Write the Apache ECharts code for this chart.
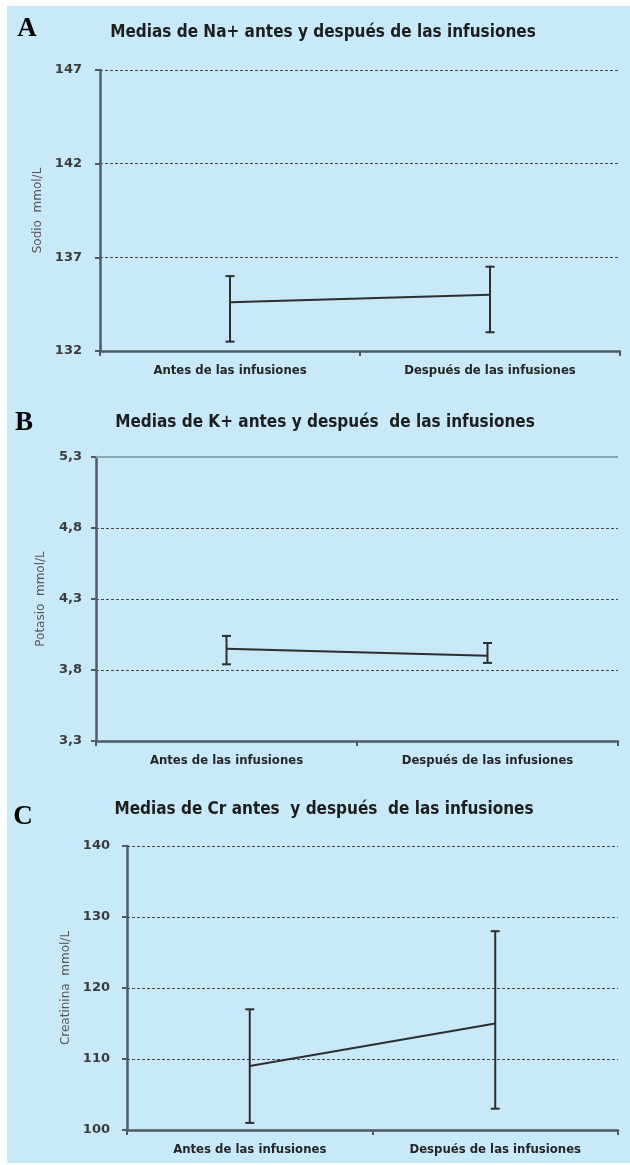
<!DOCTYPE html>
<html>
<head>
<meta charset="utf-8">
<script src="https://cdn.jsdelivr.net/npm/echarts@6/dist/echarts.min.js"></script>
<style>
html,body{margin:0;padding:0;background:#ffffff;}
#chart{position:absolute;left:0;top:0;width:630px;height:1165px;}
</style>
</head>
<body>
<div id="chart"></div>
<script>
// ---- data ----
const categories = ['Antes de las infusiones', 'Después de las infusiones'];

const naTitle = 'Medias de Na+ antes y después de las infusiones';
const naName = 'Sodio  mmol/L';
const naMean = [134.6, 135.0];
const naLow = [132.5, 133.0];
const naHigh = [136.0, 136.5];
const naTicks = [132, 137, 142, 147];

const kTitle = 'Medias de K+ antes y después  de las infusiones';
const kName = 'Potasio  mmol/L';
const kMean = [3.95, 3.90];
const kLow = [3.84, 3.85];
const kHigh = [4.04, 3.99];
const kTicks = [3.3, 3.8, 4.3, 4.8, 5.3];

const crTitle = 'Medias de Cr antes  y después  de las infusiones';
const crName = 'Creatinina  mmol/L';
const crMean = [109, 115];
const crLow = [101, 103];
const crHigh = [117, 128];
const crTicks = [100, 110, 120, 130, 140];

const panelLetters = ['A', 'B', 'C'];

// ---- styling ----
const BG = '#c7e9f8';
const AXIS = '#4e5b66';
const INK = '#2e2e2e';
const GRIDC = '#4a4a4a';
const narrow = "'Liberation Sans Narrow', 'DejaVu Sans Condensed', sans-serif";

const chart = echarts.init(document.getElementById('chart'), null, {renderer: 'canvas'});

const grids = [
  {left: 100, right: 10, top: 70, height: 281},
  {left: 96, right: 12, top: 457, height: 284},
  {left: 127, right: 12, top: 846, height: 284}
];

const panels = [
  {ticks: naTicks, name: naName, mean: naMean, low: naLow, high: naHigh, gap: 52, lm: 18, fmt: v => String(Math.round(v))},
  {ticks: kTicks, name: kName, mean: kMean, low: kLow, high: kHigh, gap: 49, lm: 14, fmt: v => v.toFixed(1).replace('.', ',')},
  {ticks: crTicks, name: crName, mean: crMean, low: crLow, high: crHigh, gap: 54, lm: 17, fmt: v => String(Math.round(v))}
];

const xAxes = panels.map((p, i) => ({
  type: 'category',
  gridIndex: i,
  data: categories,
  boundaryGap: true,
  axisLine: {lineStyle: {color: AXIS, width: 2.5}},
  axisTick: {show: true, length: 5, lineStyle: {color: AXIS, width: 2}},
  axisLabel: {color: '#262626', fontFamily: narrow, fontWeight: 'bold', fontSize: 13, margin: 13}
}));

const yAxes = panels.map((p, i) => {
  const t = p.ticks;
  const n = t.length;
  const splitColors = t.map(() => GRIDC);
  if (i === 1) splitColors[n - 1] = 'rgba(0,0,0,0)';
  return {
    type: 'value',
    gridIndex: i,
    min: t[0],
    max: t[n - 1],
    interval: t[1] - t[0],
    name: p.name,
    nameLocation: 'middle',
    nameGap: p.gap,
    nameRotate: 90,
    nameTextStyle: {color: '#585858', fontFamily: "'DejaVu Sans', sans-serif", fontSize: 12},
    axisLine: {show: true, lineStyle: {color: AXIS, width: 2.5}},
    axisTick: {show: true, length: 5, lineStyle: {color: AXIS, width: 2}},
    axisLabel: {color: '#3c3c3c', fontFamily: "'DejaVu Sans', sans-serif", fontWeight: 'bold', fontSize: 13, margin: p.lm, formatter: p.fmt},
    splitLine: {show: true, lineStyle: {color: splitColors, width: 1, type: [3, 2]}}
  };
});

const series = [];
panels.forEach((p, i) => {
  series.push({
    type: 'line',
    xAxisIndex: i,
    yAxisIndex: i,
    data: p.mean,
    symbol: 'none',
    silent: true,
    lineStyle: {color: INK, width: 2},
    z: 5,
    markLine: i === 1 ? {
      silent: true,
      symbol: 'none',
      label: {show: false},
      lineStyle: {color: '#8aa6b4', width: 2, type: 'solid'},
      data: [{yAxis: p.ticks[p.ticks.length - 1]}]
    } : undefined
  });
  series.push({
    type: 'custom',
    xAxisIndex: i,
    yAxisIndex: i,
    silent: true,
    z: 6,
    data: categories.map((c, j) => [j, p.low[j], p.high[j]]),
    encode: {x: 0, y: [1, 2]},
    renderItem: function (params, api) {
      const x = api.value(0);
      const lo = api.coord([x, api.value(1)]);
      const hi = api.coord([x, api.value(2)]);
      const w = 4.5;
      const st = {stroke: INK, lineWidth: 2};
      return {
        type: 'group',
        children: [
          {type: 'line', shape: {x1: lo[0], y1: lo[1], x2: hi[0], y2: hi[1]}, style: st},
          {type: 'line', shape: {x1: hi[0] - w, y1: hi[1], x2: hi[0] + w, y2: hi[1]}, style: st},
          {type: 'line', shape: {x1: lo[0] - w, y1: lo[1], x2: lo[0] + w, y2: lo[1]}, style: st}
        ]
      };
    }
  });
});

const titles = [
  {text: naTitle, x: 323, y: 33},
  {text: kTitle, x: 325, y: 423},
  {text: crTitle, x: 324, y: 810}
];
const letters = [
  {x: 27, y: 29},
  {x: 24, y: 423},
  {x: 23, y: 817}
];

const graphic = [
  {type: 'rect', shape: {x: 7, y: 6, width: 623, height: 1157}, style: {fill: BG}, z: -10, silent: true}
];
titles.forEach(t => graphic.push({
  type: 'text', x: t.x, y: t.y, silent: true,
  style: {text: t.text, fill: '#1e1e1e', font: "bold 17px 'Liberation Sans Narrow', 'DejaVu Sans Condensed', sans-serif", align: 'center', verticalAlign: 'middle'}
}));
letters.forEach((l, i) => graphic.push({
  type: 'text', x: l.x, y: l.y, silent: true,
  style: {text: panelLetters[i], fill: '#000', font: "bold 27px 'Liberation Serif', 'DejaVu Serif', serif", align: 'center', verticalAlign: 'middle'}
}));

chart.setOption({
  backgroundColor: '#ffffff',
  animation: false,
  grid: grids,
  xAxis: xAxes,
  yAxis: yAxes,
  series: series,
  graphic: graphic
});
</script>
</body>
</html>
